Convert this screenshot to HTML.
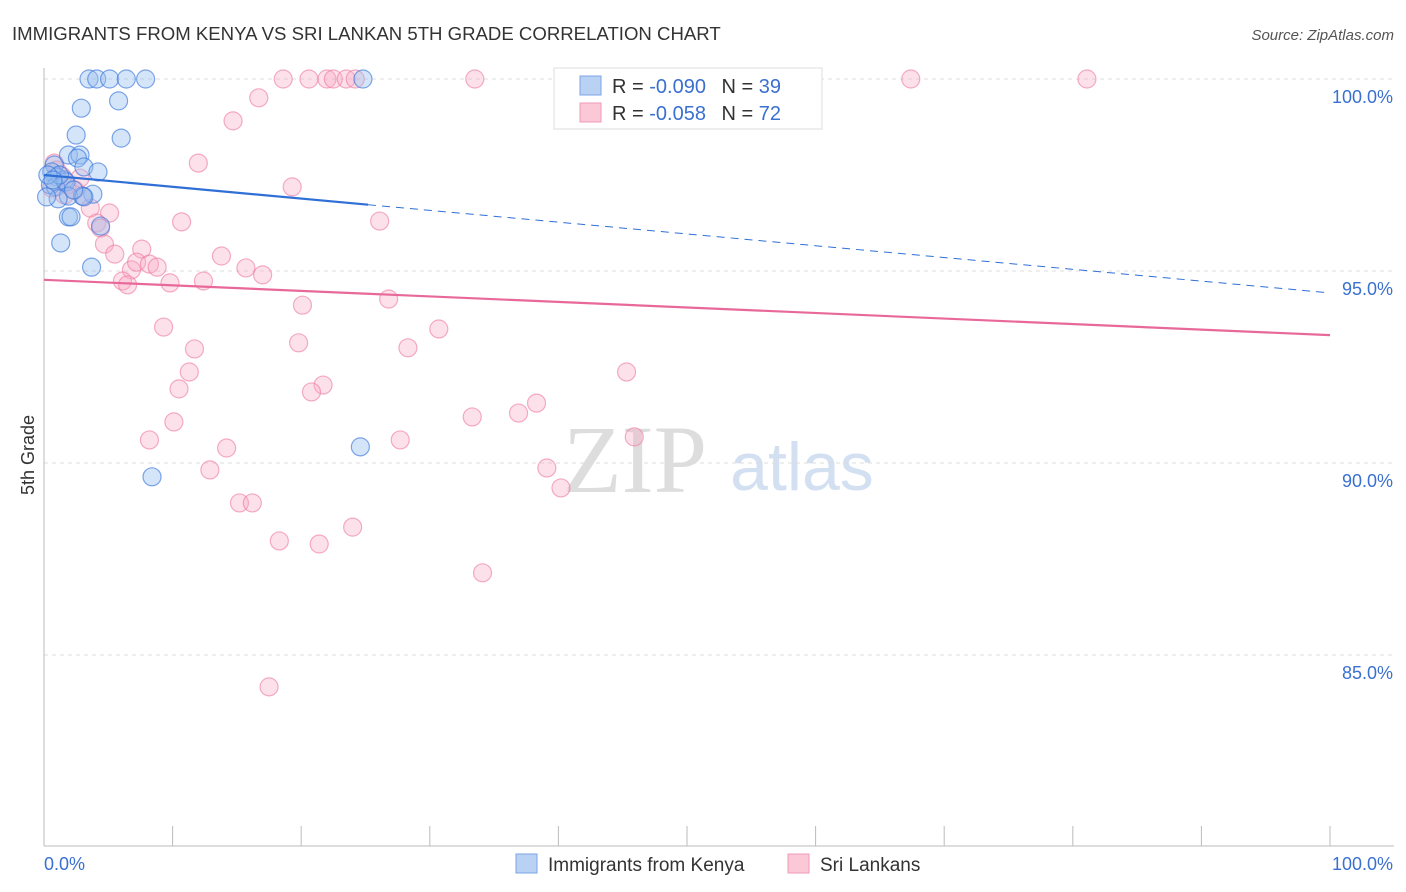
<!DOCTYPE html>
<html><head><meta charset="utf-8"><style>
body{margin:0;background:#fff;font-family:"Liberation Sans",sans-serif;}
svg{display:block}
</style></head><body>
<svg id="chart" width="1406" height="892" viewBox="0 0 1406 892">
<text x="12" y="40" font-size="18.6" fill="#333">IMMIGRANTS FROM KENYA VS SRI LANKAN 5TH GRADE CORRELATION CHART</text>
<text x="1394" y="40" font-size="15" fill="#555" font-style="italic" text-anchor="end">Source: ZipAtlas.com</text>
<text x="34" y="455" font-size="18" fill="#333" text-anchor="middle" transform="rotate(-90 34 455)">5th Grade</text>
<g><text x="635" y="492" font-size="96" font-family="Liberation Serif,serif" fill="#ddd" text-anchor="middle">ZIP</text><text x="802" y="490" font-size="68" fill="#d3e0f2" text-anchor="middle">atlas</text></g>
<g id="grid"></g><g id="axes"></g><g id="marks"></g>
<g>
<rect x="554" y="68" width="268" height="61" fill="#fff" stroke="#ddd"/>
<rect x="580" y="76" width="21" height="19" fill="#b9d1f3" stroke="#7aa5e6"/>
<rect x="580" y="103" width="21" height="19" fill="#fbc8d8" stroke="#f19ab6"/>
<text x="612" y="93" font-size="20" fill="#333">R = <tspan fill="#3a70d0">-0.090</tspan>   <tspan dx="10">N = </tspan><tspan fill="#3a70d0">39</tspan></text>
<text x="612" y="120" font-size="20" fill="#333">R = <tspan fill="#3a70d0">-0.058</tspan>   <tspan dx="10">N = </tspan><tspan fill="#3a70d0">72</tspan></text>
</g>
<g>
<rect x="516" y="854" width="21" height="19" fill="#b9d1f3" stroke="#7aa5e6"/>
<text x="548" y="871" font-size="19" fill="#333">Immigrants from Kenya</text>
<rect x="788" y="854" width="21" height="19" fill="#fbc8d8" stroke="#f19ab6"/>
<text x="820" y="871" font-size="19" fill="#333">Sri Lankans</text>
</g>
</svg>
<script>
const yTicks=[100,95,90,85];
const yTickLabels=["100.0%","95.0%","90.0%","85.0%"];
const xEndLabels=["0.0%","100.0%"];
const kenyaX=[3.5,4.1,5.1,6.4,7.9,24.8,2.9,5.8,2.5,6.0,1.9,2.8,2.6,3.1,4.2,0.8,0.6,1.0,1.6,0.5,0.9,1.7,3.8,3.0,1.9,1.1,0.2,1.9,2.1,4.4,1.3,3.7,8.4,24.6,1.2,0.3,0.7,3.1,2.3];
const kenyaY=[100,100,100,100,100,100,99.24,99.43,98.54,98.46,98.02,98.02,97.94,97.71,97.58,97.76,97.58,97.45,97.37,97.24,97.19,97.32,97.0,96.95,96.95,96.88,96.93,96.41,96.41,96.17,95.73,95.1,89.64,90.42,97.5,97.5,97.37,96.93,97.11];
const lankaX=[0.8,1.0,1.4,1.8,0.6,2.4,3.0,3.6,5.1,4.1,4.4,4.7,5.5,7.6,6.8,7.2,6.1,6.5,8.2,8.8,9.8,12.4,13.8,15.7,17.0,12.0,10.7,14.7,16.7,19.3,26.1,18.6,20.6,22.0,22.5,23.5,24.2,33.5,67.4,81.1,9.3,11.7,11.3,10.5,10.1,8.2,14.2,12.9,15.2,16.2,18.3,21.4,24.0,20.1,19.8,21.7,20.8,26.8,28.3,30.7,27.7,33.3,36.9,38.3,39.1,40.2,34.1,45.3,45.9,17.5,1.6,2.8];
const lankaY=[97.81,97.63,97.47,97.24,97.16,97.11,96.95,96.64,96.51,96.25,96.12,95.7,95.44,95.57,95.03,95.23,94.74,94.64,95.18,95.1,94.69,94.74,95.39,95.08,94.9,97.81,96.28,98.91,99.51,97.19,96.3,100,100,100,100,100,100,100,100,100,93.54,92.97,92.37,91.93,91.07,90.6,90.39,89.82,88.96,88.96,87.97,87.89,88.33,94.11,93.13,92.03,91.85,94.27,93.0,93.49,90.6,91.2,91.3,91.56,89.87,89.35,87.14,92.37,90.68,84.17,96.98,97.42];
const kenyaTrend=[97.5,94.43];
const lankaTrend=[94.77,93.33];
const kenyaSolidEnd=25.2;
const NS="http://www.w3.org/2000/svg";
const X=v=>44+v*12.86, Y=v=>79+(100-v)*38.4;
function mk(tag,attrs,parent){const e=document.createElementNS(NS,tag);for(const k in attrs)e.setAttribute(k,attrs[k]);document.getElementById(parent).appendChild(e);return e;}
yTicks.forEach((t,i)=>{
 const l=mk('line',{x1:44,x2:1394,y1:Y(t),y2:Y(t),stroke:'#ddd','stroke-dasharray':'4 4'},'grid');
 
 
 const tx=mk('text',{x:1393,y:Y(t)+24,'font-size':18,fill:'#3a70d0','text-anchor':'end'},'axes');
 tx.textContent=yTickLabels[i];
 
 
});
const ax=mk('line',{x1:44,x2:44,y1:68,y2:846,stroke:'#bbb'},'axes');


const bx=mk('line',{x1:44,x2:1394,y1:846,y2:846,stroke:'#bbb'},'axes');


for(let i=0;i<=10;i++){const tk=mk('line',{x1:X(i*10),x2:X(i*10),y1:826,y2:846,stroke:'#bbb'},'axes');
 
 }
const xl0=mk('text',{x:44,y:870,'font-size':18,fill:'#3a70d0'},'axes');xl0.textContent=xEndLabels[0];


const xl1=mk('text',{x:1393,y:870,'font-size':18,fill:'#3a70d0','text-anchor':'end'},'axes');xl1.textContent=xEndLabels[1];


lankaX.forEach((x,i)=>{const c=mk('circle',{cx:X(x),cy:Y(lankaY[i]),r:9,fill:'rgba(248,170,196,0.35)',stroke:'rgba(236,120,160,0.6)','stroke-width':1.2},'marks');
 
 });
kenyaX.forEach((x,i)=>{const c=mk('circle',{cx:X(x),cy:Y(kenyaY[i]),r:9,fill:'rgba(150,190,240,0.4)',stroke:'rgba(60,120,220,0.65)','stroke-width':1.2},'marks');
 
 });
const ky=x=>kenyaTrend[0]+(kenyaTrend[1]-kenyaTrend[0])*x/100;
const t1=mk('line',{x1:X(0),y1:Y(ky(0)),x2:X(kenyaSolidEnd),y2:Y(ky(kenyaSolidEnd)),stroke:'#2f6fd6','stroke-width':2.2},'marks');


const t2=mk('line',{x1:X(kenyaSolidEnd),y1:Y(ky(kenyaSolidEnd)),x2:X(100),y2:Y(ky(100)),stroke:'#2f6fd6','stroke-width':1,'stroke-dasharray':'8 6'},'marks');


const t3=mk('line',{x1:X(0),y1:Y(lankaTrend[0]),x2:X(100),y2:Y(lankaTrend[1]),stroke:'#e8689a','stroke-width':2.2},'marks');


</script>
</body></html>
